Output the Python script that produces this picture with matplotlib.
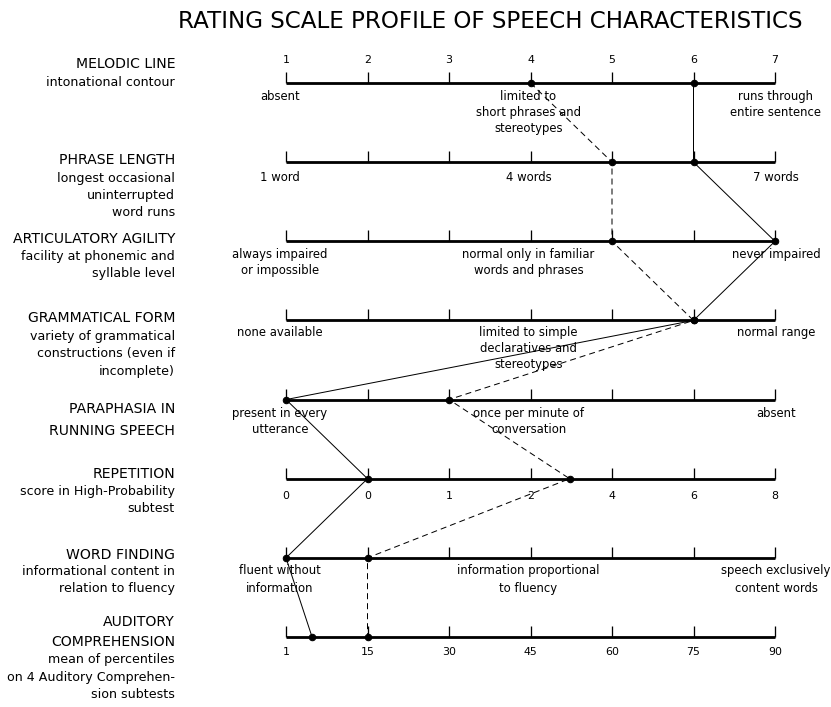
import matplotlib
matplotlib.use("Agg")
import matplotlib.pyplot as plt

# ---------------- data ----------------
title = "RATING SCALE PROFILE OF SPEECH CHARACTERISTICS"

scale_names = [
    ["MELODIC LINE", "intonational contour"],
    ["PHRASE LENGTH", "longest occasional", "uninterrupted", "word runs"],
    ["ARTICULATORY AGILITY", "facility at phonemic and", "syllable level"],
    ["GRAMMATICAL FORM", "variety of grammatical", "constructions (even if", "incomplete)"],
    ["PARAPHASIA IN", "RUNNING SPEECH"],
    ["REPETITION", "score in High-Probability", "subtest"],
    ["WORD FINDING", "informational content in", "relation to fluency"],
    ["AUDITORY", "COMPREHENSION", "mean of percentiles", "on 4 Auditory Comprehen-", "sion subtests"],
]

anchor_texts = [
    ["absent", "limited to\nshort phrases and\nstereotypes", "runs through\nentire sentence"],
    ["1 word", "4 words", "7 words"],
    ["always impaired\nor impossible", "normal only in familiar\nwords and phrases", "never impaired"],
    ["none available", "limited to simple\ndeclaratives and\nstereotypes", "normal range"],
    ["present in every\nutterance", "once per minute of\nconversation", "absent"],
    None,
    ["fluent without\ninformation", "information proportional\nto fluency", "speech exclusively\ncontent words"],
    None,
]

rating_ticks = ["1", "2", "3", "4", "5", "6", "7"]
repetition_ticks = ["0", "0", "1", "2", "4", "6", "8"]
comprehension_ticks = ["1", "15", "30", "45", "60", "75", "90"]

# profile ratings (scale position 1..7) for each of the 8 scales
profile_solid = [6, 6, 7, 6, 1, 2, 1, 1.32]
profile_dashed = [4, 5, 5, 6, 3, 4.48, 2, 2]

# ---------------- layout ----------------
W, H, DPI = 831, 707, 72
fig = plt.figure(figsize=(W / DPI, H / DPI), dpi=DPI)
fig.patch.set_facecolor("white")

x_left, x_right = 286, 775
y_top, y_bot = 83, 637
ax = fig.add_axes([x_left / W, 1 - y_bot / H, (x_right - x_left) / W, (y_bot - y_top) / H])
ax.set_xlim(1, 7)
ax.set_ylim(7, 0)
ax.axis("off")

FONT = "DejaVu Sans"
rows = list(range(len(scale_names)))
row_px = (y_bot - y_top) / 7.0
tick_h = 11 / row_px

# profiles
ax.plot(profile_solid, rows, color="black", lw=1.0, zorder=3, clip_on=False)
ax.plot(profile_dashed, rows, color="black", lw=1.0, ls=(0, (6, 4)), zorder=3, clip_on=False)

# scales
positions = [1, 2, 3, 4, 5, 6, 7]
for r in rows:
    ax.hlines(r, 1, 7, color="black", lw=2.8, zorder=2, clip_on=False)
    ax.vlines(positions, r - tick_h, r, color="black", lw=1.3, zorder=2, clip_on=False)

# dots
ax.plot(profile_solid, rows, "o", color="black", ms=6.5, zorder=4, clip_on=False)
ax.plot(profile_dashed, rows, "o", color="black", ms=6.5, zorder=4, clip_on=False)

# top rating numbers
for p, t in zip(positions, rating_ticks):
    ax.annotate(t, (p, 0), xytext=(0, 23), textcoords="offset points",
                ha="center", va="center", fontsize=11, family=FONT)

# numeric scales
for r, labels, dy in [(5, repetition_ticks, -17), (7, comprehension_ticks, -15)]:
    for p, t in zip(positions, labels):
        ax.annotate(t, (p, r), xytext=(0, dy), textcoords="offset points",
                    ha="center", va="center", fontsize=11, family=FONT)

# anchor descriptions below the scales
anchor_pos = [1, 4, 7]
anchor_dx = [-6, -2, 1]
anchor_dy = [14, 16, 14, 13, 14, None, 13, None]
anchor_ls = [1.3, 1.3, 1.3, 1.3, 1.3, None, 1.5, None]
for r in rows:
    if anchor_texts[r] is None:
        continue
    for p, dx, t in zip(anchor_pos, anchor_dx, anchor_texts[r]):
        ax.annotate(t, (p, r), xytext=(dx, -anchor_dy[r] + 7), textcoords="offset points",
                    ha="center", va="top", fontsize=11.6, family=FONT,
                    linespacing=anchor_ls[r])

# left scale names (pixel offsets of each line relative to scale line)
name_dy = [
    [-19, -1],
    [-2, 16, 33, 50],
    [-2, 15, 32],
    [-2, 16, 33, 51],
    [9, 31],
    [-5, 13, 30],
    [-3, 14, 31],
    [-15, 5, 22, 40, 58],
]
label_dx = 175 - x_left
for r in rows:
    for i, line in enumerate(scale_names[r]):
        is_caps = line.isupper()
        ax.annotate(line, (1, r), xytext=(label_dx, -name_dy[r][i]), textcoords="offset points",
                    ha="right", va="center", fontsize=14 if is_caps else 12.6, family=FONT)

fig.text(490 / W, 1 - 21 / H, title, ha="center", va="center", fontsize=23, family=FONT)

fig.savefig("out.png", dpi=DPI, facecolor="white")
